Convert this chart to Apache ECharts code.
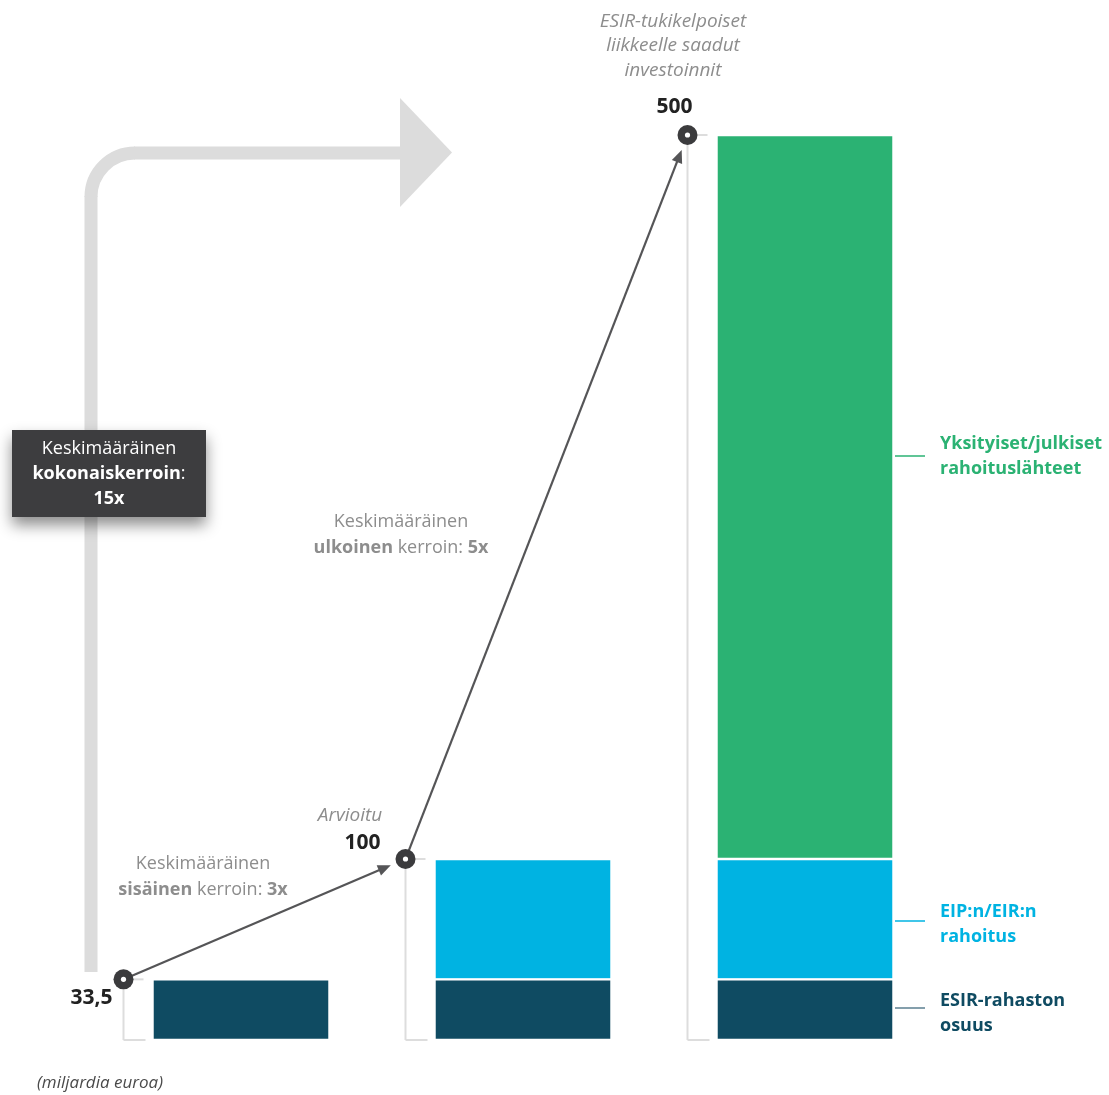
<!DOCTYPE html>
<html>
<head>
<meta charset="utf-8">
<script src="https://cdn.jsdelivr.net/npm/echarts@6/dist/echarts.min.js"></script>
<style>
html,body{margin:0;padding:0;background:#fff;}
#chart{width:1109px;height:1095px;}
</style>
</head>
<body>
<div id="chart"></div>
<script>
// ---- data ----
const categories = ['ESIR-rahasto', 'Arvioitu', 'ESIR-tukikelpoiset investoinnit'];
const esirShare = [33.5, 33.5, 33.5];
const eipFunding = [null, 66.5, 66.5];
const otherSources = [null, null, 400];
const totals = [33.5, 100, 500];
const totalLabels = ['33,5', '100', '500'];
const seriesNames = ['ESIR-rahaston osuus', 'EIP:n/EIR:n rahoitus', 'Yksityiset/julkiset rahoituslähteet'];

const C_DARK = '#0f4b62';
const C_CYAN = '#00b3e2';
const C_GREEN = '#2bb273';
const C_GRAY_TXT = '#8d8d8d';
const C_BRACKET = '#dddddd';
const C_DOT = '#3b3b3d';
const C_ARROW_BG = '#dcdcdc';
const FONT = '"Open Sans", sans-serif';

const chart = echarts.init(document.getElementById('chart'), null, {renderer: 'canvas'});

const markerData = totals.map((t, i) => [i, t, i > 0 ? totals[i - 1] : null]);

// label placement relative to the dot (style, not data)
const labelStyle = [
  {dx: -11, dy: 19, align: 'right'},
  {dx: -43, dy: -16, align: 'center'},
  {dx: -13, dy: -28, align: 'center'}
];

function renderMarker(params, api) {
  const i = api.value(0);
  const total = api.value(1);
  const prev = api.value(2);
  const top = api.coord([i, total]);
  const base = api.coord([i, 0]);
  const barW = 177;
  const lx = Math.round(top[0] - barW / 2 - 30) + 0.5;
  const children = [];
  // bracket
  children.push({type: 'line', shape: {x1: lx, y1: top[1], x2: lx, y2: base[1]}, style: {stroke: C_BRACKET, lineWidth: 2}, z2: 1});
  children.push({type: 'line', shape: {x1: lx, y1: base[1], x2: lx + 22, y2: base[1]}, style: {stroke: C_BRACKET, lineWidth: 2}, z2: 1});
  children.push({type: 'line', shape: {x1: lx, y1: top[1], x2: lx + 20, y2: top[1]}, style: {stroke: C_BRACKET, lineWidth: 2}, z2: 1});
  // arrow from previous point
  if (i > 0 && prev != null && !isNaN(prev)) {
    const p0 = api.coord([i - 1, prev]);
    const sx = Math.round(p0[0] - barW / 2 - 30) + 0.5;
    const sy = p0[1];
    const ex = lx, ey = top[1];
    const dx = ex - sx, dy = ey - sy;
    const L = Math.sqrt(dx * dx + dy * dy);
    const ux = dx / L, uy = dy / L;
    const tipX = ex - ux * 16, tipY = ey - uy * 16;
    const headL = 13, headW = 5.5;
    const bx = tipX - ux * headL, by = tipY - uy * headL;
    children.push({type: 'line', shape: {x1: sx + ux * 8, y1: sy + uy * 8, x2: bx + ux * 2, y2: by + uy * 2}, style: {stroke: '#555557', lineWidth: 2.2}, z2: 5});
    children.push({type: 'polygon', shape: {points: [[tipX, tipY], [bx - uy * headW, by + ux * headW], [bx + uy * headW, by - ux * headW]]}, style: {fill: '#555557'}, z2: 5});
  }
  // dot
  children.push({type: 'circle', shape: {cx: lx, cy: top[1], r: 10}, style: {fill: C_DOT}, z2: 10});
  children.push({type: 'circle', shape: {cx: lx, cy: top[1], r: 2.6}, style: {fill: '#ffffff'}, z2: 11});
  // value label
  const ls = labelStyle[i];
  children.push({type: 'text', x: lx + ls.dx, y: top[1] + ls.dy, style: {
    text: totalLabels[i], fill: '#222', font: 'bold 21px ' + FONT, align: ls.align, verticalAlign: 'middle'}, z2: 12});
  return {type: 'group', children: children};
}

const option = {
  animation: false,
  backgroundColor: '#ffffff',
  grid: {left: 100, right: 163, top: 135, bottom: 55},
  xAxis: {type: 'category', data: categories, show: false},
  yAxis: {type: 'value', min: 0, max: 500, interval: 100, show: false, splitLine: {show: false}},
  series: [
    {name: seriesNames[0], type: 'bar', stack: 'total', data: esirShare, barWidth: 177,
      itemStyle: {color: C_DARK, borderColor: '#ffffff', borderWidth: 1.2}},
    {name: seriesNames[1], type: 'bar', stack: 'total', data: eipFunding, barWidth: 177,
      itemStyle: {color: C_CYAN, borderColor: '#ffffff', borderWidth: 1.2}},
    {name: seriesNames[2], type: 'bar', stack: 'total', data: otherSources, barWidth: 177,
      itemStyle: {color: C_GREEN, borderColor: '#ffffff', borderWidth: 1.2}},
    {type: 'custom', data: markerData, renderItem: renderMarker, encode: {x: 0, y: 1}, z: 5, clip: false, silent: true}
  ],
  graphic: [
    // big gray arrow
    {type: 'line', z: -1, shape: {x1: 91, y1: 972, x2: 91, y2: 196}, style: {stroke: C_ARROW_BG, lineWidth: 13}},
    {type: 'arc', z: -1, shape: {cx: 135, cy: 197, r: 44, startAngle: Math.PI, endAngle: Math.PI * 1.5, clockwise: true},
      style: {stroke: C_ARROW_BG, lineWidth: 13, fill: null}},
    {type: 'line', z: -1, shape: {x1: 134, y1: 153, x2: 406, y2: 153}, style: {stroke: C_ARROW_BG, lineWidth: 13}},
    {type: 'polygon', z: -1, shape: {points: [[400, 98], [452, 152.5], [400, 207]]}, style: {fill: C_ARROW_BG}},
    // dark box
    {type: 'rect', z: 10, shape: {x: 12, y: 430, width: 194, height: 87},
      style: {fill: '#3d3d3f', shadowBlur: 14, shadowColor: 'rgba(0,0,0,0.45)', shadowOffsetY: 8}},
    {type: 'text', z: 11, x: 109, y: 474, style: {
      text: 'Keskimääräinen\n{b|kokonaiskerroin}:\n{b|15x}', fill: '#ffffff', font: '18px ' + FONT,
      align: 'center', verticalAlign: 'middle', lineHeight: 25,
      rich: {b: {font: 'bold 18px ' + FONT, fill: '#ffffff', lineHeight: 25}}}},
    // multiplier texts
    {type: 'text', x: 401, y: 535, style: {
      text: 'Keskimääräinen\n{b|ulkoinen} kerroin: {b|5x}', fill: C_GRAY_TXT, font: '18px ' + FONT,
      align: 'center', verticalAlign: 'middle', lineHeight: 25.5,
      rich: {b: {font: 'bold 18px ' + FONT, fill: C_GRAY_TXT, lineHeight: 25.5}}}},
    {type: 'text', x: 203, y: 877, style: {
      text: 'Keskimääräinen\n{b|sisäinen} kerroin: {b|3x}', fill: C_GRAY_TXT, font: '18px ' + FONT,
      align: 'center', verticalAlign: 'middle', lineHeight: 25.5,
      rich: {b: {font: 'bold 18px ' + FONT, fill: C_GRAY_TXT, lineHeight: 25.5}}}},
    // italic captions
    {type: 'text', x: 350, y: 816, style: {text: 'Arvioitu', fill: C_GRAY_TXT, font: 'italic 19px ' + FONT, align: 'center', verticalAlign: 'middle'}},
    {type: 'text', x: 673, y: 46, style: {text: 'ESIR-tukikelpoiset\nliikkeelle saadut\ninvestoinnit', fill: C_GRAY_TXT,
      font: 'italic 19px ' + FONT, align: 'center', verticalAlign: 'middle', lineHeight: 24.5}},
    {type: 'text', x: 37, y: 1083, style: {text: '(miljardia euroa)', fill: '#4a4a4a', font: 'italic 17px ' + FONT, align: 'left', verticalAlign: 'middle'}},
    // series labels on the right
    {type: 'line', shape: {x1: 895, y1: 456, x2: 925, y2: 456}, style: {stroke: C_GREEN, lineWidth: 1.5}},
    {type: 'text', x: 940, y: 456, style: {text: 'Yksityiset/julkiset\nrahoituslähteet', fill: C_GREEN, font: 'bold 18px ' + FONT,
      align: 'left', verticalAlign: 'middle', lineHeight: 25}},
    {type: 'line', shape: {x1: 895, y1: 921, x2: 925, y2: 921}, style: {stroke: C_CYAN, lineWidth: 1.5}},
    {type: 'text', x: 940, y: 924, style: {text: 'EIP:n/EIR:n\nrahoitus', fill: C_CYAN, font: 'bold 18px ' + FONT,
      align: 'left', verticalAlign: 'middle', lineHeight: 25}},
    {type: 'line', shape: {x1: 895, y1: 1008, x2: 925, y2: 1008}, style: {stroke: '#5b7f90', lineWidth: 1.5}},
    {type: 'text', x: 940, y: 1013, style: {text: 'ESIR-rahaston\nosuus', fill: C_DARK, font: 'bold 18px ' + FONT,
      align: 'left', verticalAlign: 'middle', lineHeight: 25}}
  ]
};
chart.setOption(option);
</script>
</body>
</html>
